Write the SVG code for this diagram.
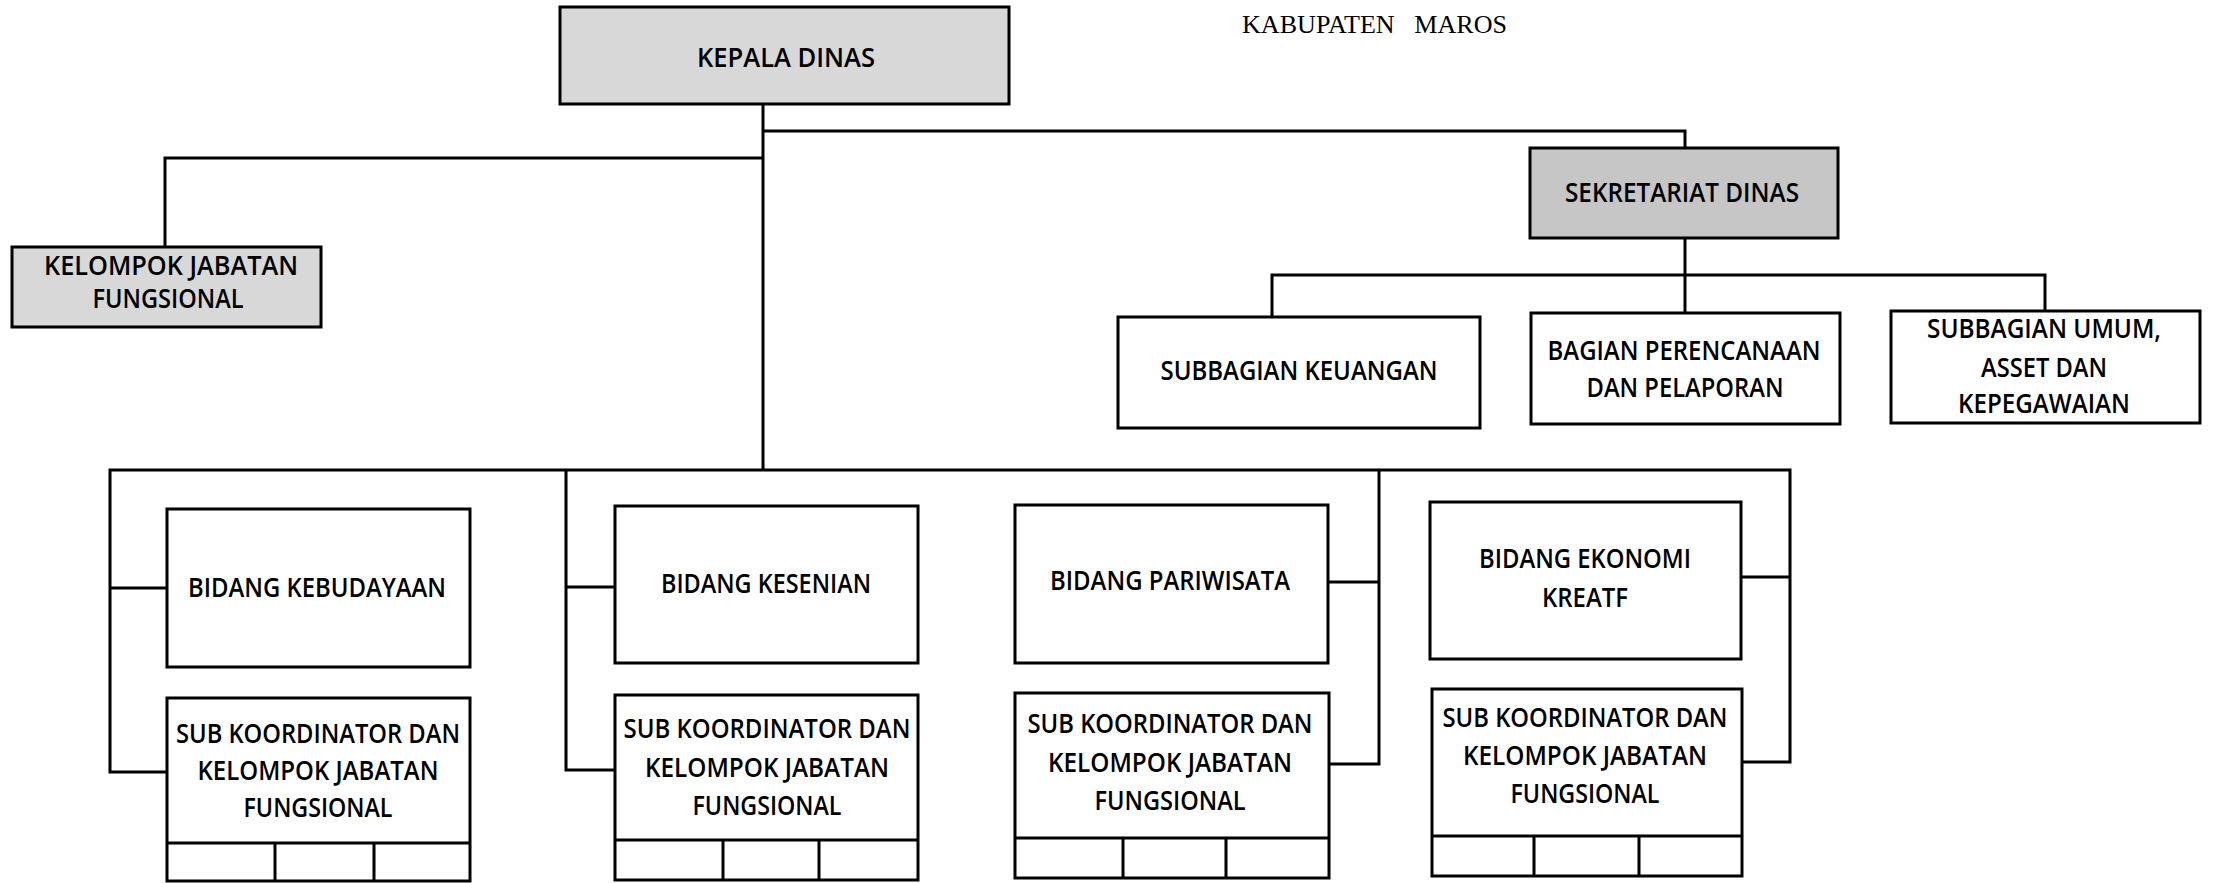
<svg xmlns="http://www.w3.org/2000/svg" width="2213" height="883" viewBox="0 0 2213 883">
<style>
.box{fill:#fff;stroke:#000;stroke-width:3}
.gray{fill:#d8d8d8;stroke:#000;stroke-width:3}
.dark{fill:#c6c6c6;stroke:#000;stroke-width:3}
.ln{fill:none;stroke:#000;stroke-width:3}
.t{font-family:"Open Sans","Liberation Sans",sans-serif;font-size:27px;font-weight:600;fill:#000;text-anchor:middle}
.hdr{font-family:"Liberation Serif","Times New Roman",serif;font-size:26px;fill:#000;white-space:pre}
</style>
<rect x="0" y="0" width="2213" height="883" fill="#fff"/>
<text class="hdr" x="1242" y="33" textLength="265" lengthAdjust="spacingAndGlyphs" xml:space="preserve">KABUPATEN   MAROS</text>
<g id="connectors">
<path class="ln" d="M763,104 V470"/>
<path class="ln" d="M165,247 V158 H763"/>
<path class="ln" d="M763,131 H1685 V148"/>
<path class="ln" d="M1685,238 V313"/>
<path class="ln" d="M1272,317 V275 H2045 V311"/>
<path class="ln" d="M167,772 H110 V470 H1790 V762 H1741"/>
<path class="ln" d="M110,588 H167"/>
<path class="ln" d="M566,470 V770 H615"/>
<path class="ln" d="M566,587 H615"/>
<path class="ln" d="M1379,470 V764 H1329"/>
<path class="ln" d="M1379,582 H1328"/>
<path class="ln" d="M1790,577 H1741"/>
</g>
<g id="kepala-dinas">
<rect class="gray" x="560" y="7" width="449" height="97"/>
<text class="t" x="786" y="67" textLength="178" lengthAdjust="spacingAndGlyphs">KEPALA DINAS</text>
</g>
<g id="kelompok-jabatan-fungsional">
<rect class="gray" x="12" y="247" width="309" height="80"/>
<text class="t" x="171" y="275" textLength="254" lengthAdjust="spacingAndGlyphs">KELOMPOK JABATAN</text>
<text class="t" x="168" y="308" textLength="151" lengthAdjust="spacingAndGlyphs">FUNGSIONAL</text>
</g>
<g id="sekretariat-dinas">
<rect class="dark" x="1530" y="148" width="308" height="90"/>
<text class="t" x="1682" y="202" textLength="234" lengthAdjust="spacingAndGlyphs">SEKRETARIAT DINAS</text>
</g>
<g id="subbagian-keuangan">
<rect class="box" x="1118" y="317" width="362" height="111"/>
<text class="t" x="1299" y="380" textLength="277" lengthAdjust="spacingAndGlyphs">SUBBAGIAN KEUANGAN</text>
</g>
<g id="bagian-perencanaan">
<rect class="box" x="1531" y="313" width="309" height="111"/>
<text class="t" x="1684" y="360" textLength="273" lengthAdjust="spacingAndGlyphs">BAGIAN PERENCANAAN</text>
<text class="t" x="1685" y="397" textLength="197" lengthAdjust="spacingAndGlyphs">DAN PELAPORAN</text>
</g>
<g id="subbagian-umum">
<rect class="box" x="1891" y="311" width="309" height="112"/>
<text class="t" x="2044" y="338" textLength="234" lengthAdjust="spacingAndGlyphs">SUBBAGIAN UMUM,</text>
<text class="t" x="2044" y="377" textLength="126" lengthAdjust="spacingAndGlyphs">ASSET DAN</text>
<text class="t" x="2044" y="413" textLength="172" lengthAdjust="spacingAndGlyphs">KEPEGAWAIAN</text>
</g>
<g id="bidang-kebudayaan">
<rect class="box" x="167" y="509" width="303" height="158"/>
<text class="t" x="317" y="597" textLength="258" lengthAdjust="spacingAndGlyphs">BIDANG KEBUDAYAAN</text>
</g>
<g id="sub-koordinator-1">
<rect class="box" x="167" y="698" width="303" height="183"/>
<path class="ln" d="M167,843 H470 M275,843 V881 M374,843 V881"/>
<text class="t" x="318" y="743" textLength="284" lengthAdjust="spacingAndGlyphs">SUB KOORDINATOR DAN</text>
<text class="t" x="318" y="780" textLength="241" lengthAdjust="spacingAndGlyphs">KELOMPOK JABATAN</text>
<text class="t" x="318" y="817" textLength="149" lengthAdjust="spacingAndGlyphs">FUNGSIONAL</text>
</g>
<g id="bidang-kesenian">
<rect class="box" x="615" y="506" width="303" height="157"/>
<text class="t" x="766" y="593" textLength="210" lengthAdjust="spacingAndGlyphs">BIDANG KESENIAN</text>
</g>
<g id="sub-koordinator-2">
<rect class="box" x="615" y="695" width="303" height="185"/>
<path class="ln" d="M615,840 H918 M723,840 V880 M819,840 V880"/>
<text class="t" x="767" y="738" textLength="287" lengthAdjust="spacingAndGlyphs">SUB KOORDINATOR DAN</text>
<text class="t" x="767" y="777" textLength="244" lengthAdjust="spacingAndGlyphs">KELOMPOK JABATAN</text>
<text class="t" x="767" y="815" textLength="149" lengthAdjust="spacingAndGlyphs">FUNGSIONAL</text>
</g>
<g id="bidang-pariwisata">
<rect class="box" x="1015" y="505" width="313" height="158"/>
<text class="t" x="1170" y="590" textLength="240" lengthAdjust="spacingAndGlyphs">BIDANG PARIWISATA</text>
</g>
<g id="sub-koordinator-3">
<rect class="box" x="1015" y="693" width="314" height="185"/>
<path class="ln" d="M1015,838 H1329 M1123,838 V878 M1226,838 V878"/>
<text class="t" x="1170" y="733" textLength="285" lengthAdjust="spacingAndGlyphs">SUB KOORDINATOR DAN</text>
<text class="t" x="1170" y="772" textLength="244" lengthAdjust="spacingAndGlyphs">KELOMPOK JABATAN</text>
<text class="t" x="1170" y="810" textLength="151" lengthAdjust="spacingAndGlyphs">FUNGSIONAL</text>
</g>
<g id="bidang-ekonomi-kreatif">
<rect class="box" x="1430" y="502" width="311" height="157"/>
<text class="t" x="1585" y="568" textLength="212" lengthAdjust="spacingAndGlyphs">BIDANG EKONOMI</text>
<text class="t" x="1585" y="607" textLength="86" lengthAdjust="spacingAndGlyphs">KREATF</text>
</g>
<g id="sub-koordinator-4">
<rect class="box" x="1432" y="689" width="310" height="187"/>
<path class="ln" d="M1432,836 H1742 M1534,836 V876 M1639,836 V876"/>
<text class="t" x="1585" y="727" textLength="285" lengthAdjust="spacingAndGlyphs">SUB KOORDINATOR DAN</text>
<text class="t" x="1585" y="765" textLength="244" lengthAdjust="spacingAndGlyphs">KELOMPOK JABATAN</text>
<text class="t" x="1585" y="803" textLength="149" lengthAdjust="spacingAndGlyphs">FUNGSIONAL</text>
</g>
</svg>
